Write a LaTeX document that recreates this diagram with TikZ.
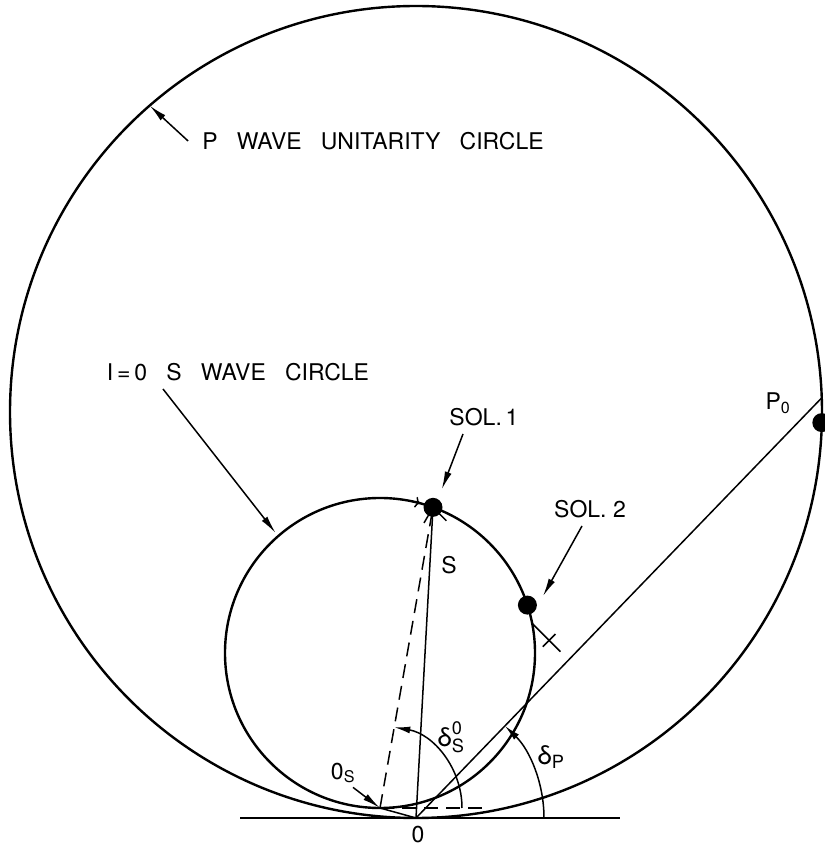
\documentclass[tikz,border=0pt]{standalone}
\usepackage{fontspec}
\usepackage{amsmath}
\setmainfont{TeX Gyre Heros}
\usetikzlibrary{arrows.meta}

\begin{document}
\begin{tikzpicture}[x=1pt,y=1pt,
  circ/.style={line width=2.4pt},
  thin/.style={line width=1.5pt},
  lbl/.style={font=\fontsize{23}{27}\selectfont, inner sep=0pt},
  ptr/.style={line width=1.5pt, -{Latex[length=18pt,width=7pt]}},
  dot/.style={circle, fill, inner sep=0pt, minimum size=19pt}]
\useasboundingbox (0,0) rectangle (825,847);
% centres and origins
\coordinate (cp) at (416,435);
\coordinate (cs) at (380,194);
\coordinate (o) at (416,29);
\coordinate (os) at (380,39);
\coordinate (ax1) at (240,29);
\coordinate (ax2) at (620,29);
\coordinate (dh) at (488,39);
\coordinate (pe) at ([shift={(2:406)}]cp);
\coordinate (m2) at ([shift={(11:155)}]cs);
% circles
\draw[circ] (cp) circle (406);
\draw[circ] (cs) circle (155);
\draw[thin, -{To[length=5pt,width=11pt]}] ([shift={(79:155)}]cs) arc (79:75:155);
% points
\node[dot] (s1) at ([shift={(70:155)}]cs) {};
\node[dot] (s2) at ([shift={(18:155)}]cs) {};
\node[dot] (p0) at ([shift={(-1.5:406)}]cp) {};
% lines
\draw[thin] (ax1) -- (ax2);
\draw[thin] (o) -- (pe);
\draw[thin] (os) -- (o);
\draw[thin] (o) -- (s1.center);
\draw[thin, dash pattern=on 14pt off 8pt] (os) -- (s1.center);
\draw[thin, dash pattern=on 14pt off 8pt] (os) -- (dh);
\draw[thin] ([shift={(-120:18)}]s1.center) -- (s1.center);
\draw[thin] ([shift={(-45:19)}]s1.center) -- (s1.center);
\draw[thin] (m2) -- ++(-45:40);
\draw[thin] ([shift={(-45:24)}]m2) ++(45:9) -- ++(-135:18);
% angles
\draw[thin, -{Latex[length=16pt,width=7pt]}] ([shift={(0:82)}]os) arc (0:80:82);
\draw[thin, -{Latex[length=16pt,width=7pt]}] ([shift={(0:128)}]o) arc (0:46:128);
% labels
\node[lbl] (plbl) at (373,706) {P~~~WAVE~~~UNITARITY~~~CIRCLE};
\node[lbl] (slbl) at (238,475) {I\,=\,0~~~S~~~WAVE~~~CIRCLE};
\node[lbl] (sol1) at (484,430) {SOL.\,1};
\node[lbl] (sol2) at (590,338) {SOL.~2};
\node[lbl] (slabel) at (449,282) {S};
\node[lbl] (p0lbl) at (778,444) {P\textsubscript{0}};
\node[lbl] (olbl) at (418,12) {0};
\node[lbl] (oslbl) at (343,74) {0\textsubscript{S}};
\node[lbl, font=\fontsize{26}{30}\selectfont] (dslbl) at (451,110) {$\text{δ}^{\text{0}}_{\text{S}}$};
\node[lbl, font=\fontsize{26}{30}\selectfont] (dplbl) at (551,90) {δ\textsubscript{P}};
% pointers
\draw[ptr] ([xshift=-14pt]plbl.west) -- ([shift={(131:406)}]cp);
\draw[ptr] ([xshift=-75pt,yshift=-8pt]slbl.south) -- ([shift={(131:159)}]cs);
\draw[ptr] ([xshift=-21pt,yshift=-8pt]sol1.south) -- ([shift={(64:20)}]s1.center);
\draw[ptr] ([xshift=-8pt,yshift=-8pt]sol2.south) -- ([shift={(30:18)}]s2.center);
\draw[ptr] ([xshift=10pt,yshift=-4pt]oslbl.south) -- (os);
\end{tikzpicture}
\end{document}
